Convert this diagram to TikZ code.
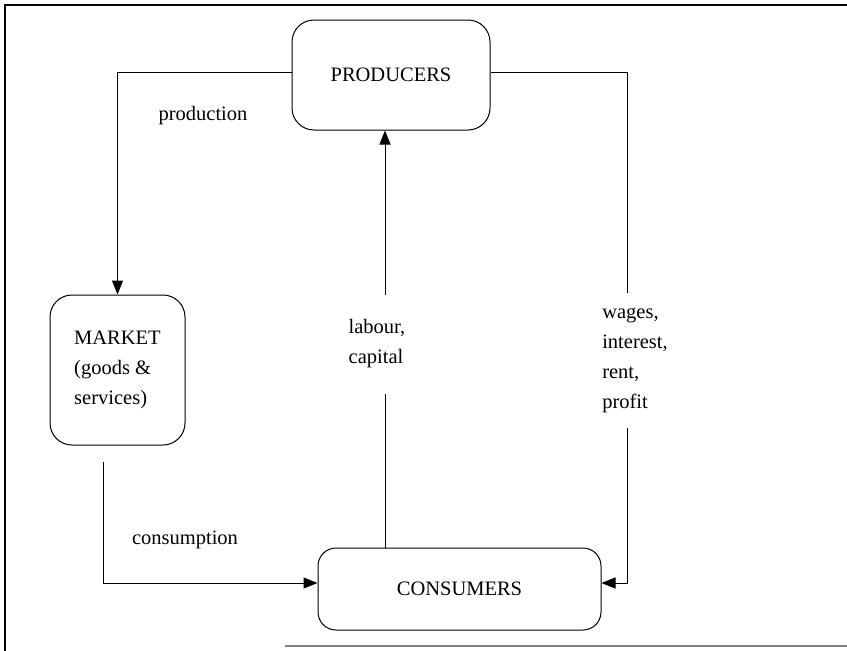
\documentclass[tikz,border=0pt]{standalone}
\usepackage{fontspec}
\setmainfont{Liberation Serif}
\usetikzlibrary{arrows.meta}
\begin{document}
\begin{tikzpicture}[x=1pt, y=-1pt, line width=1pt,
    flowbox/.style={draw, rounded corners=22pt},
    flowlbl/.style={align=left, inner sep=0pt},
    >={Triangle[length=14pt, width=11pt]},
    every node/.style={font=\fontsize{20.5}{30}\selectfont}]
    % Circular flow: producers, market, consumers
    \useasboundingbox (0,0) rectangle (847,651);
    \draw[line width=1.5pt] (5,651) -- (5,5) -- (847,5);
    \draw[gray, line width=1.5pt] (285,646) -- (847,646);

    \node[flowbox, minimum width=198pt, minimum height=110pt] (producers) at (391,75) {PRODUCERS};
    \node[flowbox, minimum width=135pt, minimum height=150pt, align=left] (market) at (117.5,370) {MARKET\\(goods \&\\services)};
    \node[flowbox, rounded corners=18pt, minimum width=283pt, minimum height=82pt] (consumers) at (459.5,589) {CONSUMERS};

    \node (production) at (203,116) {production};
    \node (consumption) at (185,540) {consumption};
    \node[flowlbl, minimum height=98pt] (labour) at (377,344) {labour,\\capital};
    \node[flowlbl, minimum height=134pt] (wages) at (635,360) {wages,\\interest,\\rent,\\profit};

    \coordinate (mkout) at (103,462);
    \coordinate (labourlo) at ([xshift=8pt]labour.south);
    \coordinate (labourhi) at ([xshift=8pt]labour.north);
    \coordinate (wageshi) at ([xshift=-8pt]wages.north);
    \coordinate (wageslo) at ([xshift=-8pt]wages.south);

    \draw[->] ([yshift=3pt]producers.west) -| (market.north);
    \draw[->] (mkout) |- ([yshift=6pt]consumers.west);

    \draw (consumers.north -| labourlo) -- (labourlo);
    \draw[->] (labourhi) -- (producers.south -| labourhi);

    \draw ([yshift=3pt]producers.east) -| (wageshi);
    \draw[->] (wageslo) |- ([yshift=6pt]consumers.east);
\end{tikzpicture}
\end{document}
